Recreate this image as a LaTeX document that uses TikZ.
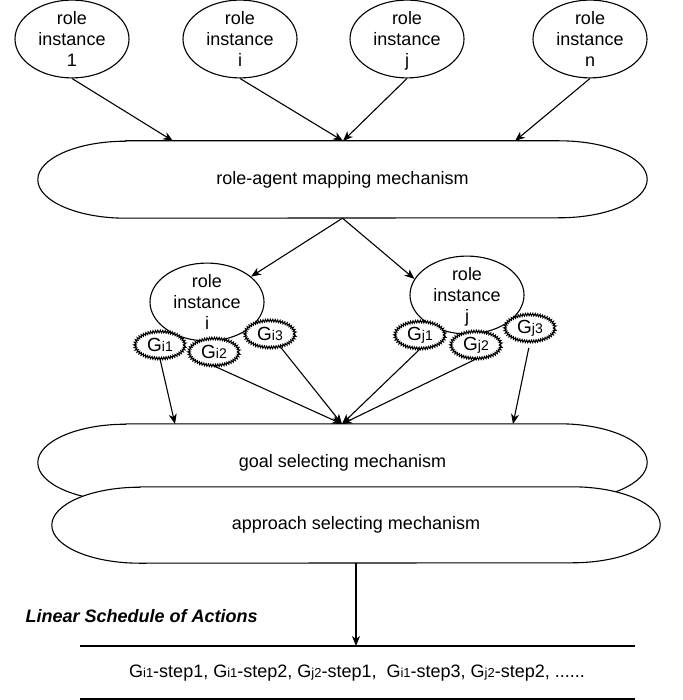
\documentclass[tikz,border=0pt]{standalone}
\usepackage{fontspec}
\setmainfont{Liberation Sans}
\usetikzlibrary{arrows.meta,shapes.geometric,decorations.pathmorphing,backgrounds,calc}
\newcommand\glab[1]{G{\fontsize{13}{14}\selectfont #1}}
\newcommand\gnlab[1]{{\fontsize{19}{21}\selectfont G}{\fontsize{14}{15}\selectfont #1}}
\newcommand\rolelab[1]{role\\instance\\\raisebox{0pt}[\height][0pt]{#1}}
\newcommand\drawstadium[3]{%
  \draw[line width=1.1pt,fill=white] ($(#1.north west)+(#2,0)$) -- ($(#1.north east)+(-#2,0)$)
    arc[start angle=90,end angle=-90,x radius=#2,y radius=#3]
    -- ($(#1.south west)+(#2,0)$)
    arc[start angle=270,end angle=90,x radius=#2,y radius=#3] -- cycle;}
\begin{document}
\begin{tikzpicture}[x=1pt,y=1pt,
  every node/.style={font=\fontsize{18}{21}\selectfont},
  role/.style={ellipse,draw,line width=1.1pt,minimum width=114pt,minimum height=68pt,inner sep=0pt,align=center,fill=white},
  goalnode/.style={ellipse,draw,line width=1pt,fill=white,minimum width=50pt,minimum height=27pt,inner sep=0pt,
    decorate,decoration={zigzag,segment length=2.4pt,amplitude=1.3pt}},
  mech/.style={minimum width=609pt,minimum height=77pt,inner sep=0pt},
  conn/.style={line width=1.1pt,-{Stealth[length=10pt,width=8pt,inset=3pt]}},
  plain/.style={line width=1.1pt}]
\useasboundingbox (0,0) rectangle (682,-700);

% top role instances
\node[role] (r1) at (72,-39) {\rolelab{1}};
\node[role] (r2) at (240,-39) {\rolelab{i}};
\node[role] (r3) at (407,-39) {\rolelab{j}};
\node[role] (r4) at (590,-39) {\rolelab{n}};

% role-agent mapping mechanism
\node[mech] (rm) at (342.5,-179.5) {role-agent mapping mechanism};

% middle role instances
\node[role,minimum height=66pt] (ri) at (207,-302) {\rolelab{i}};
\node[role,minimum height=66pt] (rj) at (467,-295) {\rolelab{j}};

% goals
\node[goalnode] (gi1) at (160,-345) {\gnlab{i1}};
\node[goalnode] (gi2) at (214,-352) {\gnlab{i2}};
\node[goalnode] (gi3) at (270,-334) {\gnlab{i3}};
\node[goalnode] (gj1) at (420,-335) {\gnlab{j1}};
\node[goalnode] (gj2) at (476,-345) {\gnlab{j2}};
\node[goalnode] (gj3) at (530,-328) {\gnlab{j3}};

% selecting mechanisms
\node[mech] (gs) at (342.5,-462.5) {goal selecting mechanism};
\node[mech,minimum width=608pt,minimum height=76pt] (as) at (356,-525) {approach selecting mechanism};

\begin{scope}[on background layer]
  \drawstadium{rm}{88}{38.5}
  \drawstadium{gs}{88}{38.5}
  \drawstadium{as}{88}{38}
\end{scope}

% arrow end points
\coordinate (m1) at (173,-141);
\coordinate (m2) at (343,-141);
\coordinate (m3) at (515,-141);
\coordinate (g1) at (175,-424);
\coordinate (g2) at (342,-424);
\coordinate (g3) at (513,-424);

\draw[conn] (r1.south) -- (m1);
\draw[conn] (r2.south) -- (m2);
\draw[conn] (r3.south) -- (m2);
\draw[conn] (r4.south) -- (m3);
\draw[conn] (rm.south) -- (ri.30);
\draw[conn] (rm.south) -- (rj.163);
\draw[conn] (gi1.south) -- (g1);
\draw[conn] (gi2.south) -- (g2);
\draw[conn] (gi3) -- (g2);
\draw[conn] (gj1.south) -- (g2);
\draw[conn] (gj2.south) -- (g2);
\draw[conn,shorten <=6pt] (gj3.south) -- (g3);

% linear schedule
\coordinate (l1a) at (80,-646);
\coordinate (l1b) at (635,-646);
\coordinate (l2a) at (80,-699);
\coordinate (l2b) at (635,-699);
\draw[plain] (l1a) -- (l1b);
\draw[plain] (l2a) -- (l2b);
\draw[conn] (as.south) -- (as.south |- l1a);
\node[anchor=west,font=\fontsize{18}{21}\selectfont\bfseries\itshape] (title) at (22,-616) {Linear Schedule of Actions};
\node (sched) at (357,-673) {\glab{i1}-step1, \glab{i1}-step2, \glab{j2}-step1,\ \ \glab{i1}-step3, \glab{j2}-step2, ......};
\end{tikzpicture}
\end{document}
